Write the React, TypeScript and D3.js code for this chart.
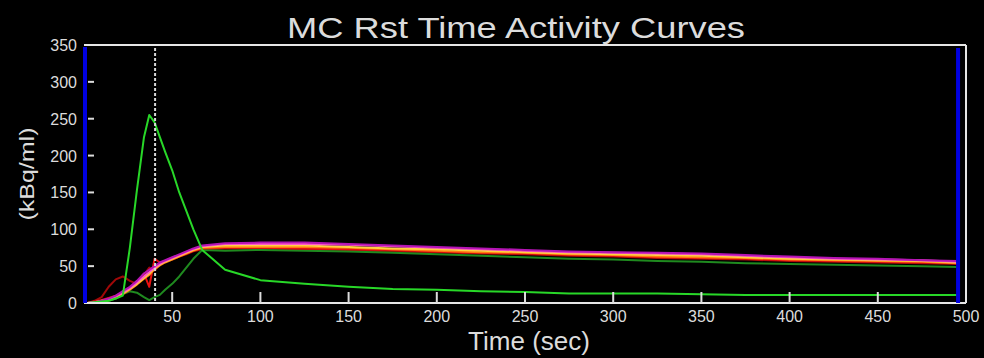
import React from "react";
import * as d3 from "d3";

const times = [2, 6, 10, 14, 18, 22, 26, 30, 34, 37, 40, 43, 46, 50, 54, 58, 62, 67, 80, 100, 125, 150, 175, 200, 225, 250, 275, 300, 325, 350, 375, 400, 425, 450, 475, 495];

const greenAif = [0, 1, 2, 3, 6, 10, 75, 153, 225, 255, 245, 225, 205, 180, 150, 125, 100, 72, 45, 31, 26, 22, 19, 18, 16, 15, 13, 13, 13, 12, 11, 11, 11, 11, 11, 11];
const darkGreen = [0, 0, 1, 3, 6, 12, 16, 14, 8, 4, 8, 11, 18, 26, 36, 48, 60, 72, 71, 72, 71, 70, 68, 66, 64, 62, 60, 59, 57, 56, 54, 53, 52, 51, 50, 49];
const magenta = [0, 1, 3, 6, 10, 16, 22, 30, 40, 45, 50, 55, 58, 62, 66, 70, 74, 78, 81, 82, 82, 80, 78, 76, 74, 72, 70, 69, 68, 67, 65, 63, 61, 60, 58, 57];
const pink = [0, 1, 2, 5, 9, 14, 20, 28, 36, 42, 48, 53, 57, 61, 65, 69, 73, 77, 80, 80, 80, 79, 77, 75, 73, 71, 69, 68, 67, 66, 64, 62, 60, 59, 58, 56];
const yellow = [0, 1, 3, 5, 9, 13, 19, 26, 34, 40, 47, 52, 56, 60, 64, 68, 72, 76, 78, 78, 78, 76, 74, 73, 71, 69, 67, 66, 65, 64, 62, 60, 59, 58, 57, 55];
const orange = [0, 1, 2, 4, 8, 12, 18, 25, 33, 38, 46, 51, 55, 59, 63, 67, 71, 75, 76, 76, 76, 75, 73, 71, 69, 68, 66, 65, 63, 62, 61, 59, 58, 57, 56, 54];
const red = [0, 2, 4, 7, 10, 14, 20, 28, 40, 22, 60, 55, 57, 60, 64, 67, 71, 74, 75, 75, 74, 73, 72, 70, 68, 67, 65, 64, 62, 61, 60, 58, 57, 56, 55, 54];
const darkRed = [0, 3, 8, 22, 32, 36, 30, 26, 38, 48, 44, 52, 56, 59, 63, 66, 70, 73, 74, 74, 73, 72, 70, 69, 67, 66, 64, 63, 61, 60, 59, 57, 56, 55, 54, 53];

const seriesList = [
  { name: "darkRed", values: darkRed, color: "#a00808" },
  { name: "darkGreen", values: darkGreen, color: "#1f8a1f" },
  { name: "red", values: red, color: "#e81010" },
  { name: "orange", values: orange, color: "#ff7a10" },
  { name: "yellow", values: yellow, color: "#ffd040" },
  { name: "pink", values: pink, color: "#ff5cc8" },
  { name: "magenta", values: magenta, color: "#b414b4" },
  { name: "greenAif", values: greenAif, color: "#28d828" },
];

const xTicks = [50, 100, 150, 200, 250, 300, 350, 400, 450, 500];
const yTicks = [0, 50, 100, 150, 200, 250, 300, 350];
const markerTime = 40.3;
const blueRightTime = 495.5;

export default function App() {
  const W = 984, H = 358;
  const left = 84, right = 966, top = 45, bottom = 303;
  const x = d3.scaleLinear().domain([0, 500]).range([left, right]);
  const y = d3.scaleLinear().domain([0, 350]).range([bottom, top]);
  const font = "'Liberation Sans', Arial, sans-serif";
  const txt = "#dcdcdc";

  const line = (vals: number[]) =>
    d3.line<number>().x((_, i) => x(times[i])).y((d) => y(d))(vals) || "";

  return (
    <svg width={W} height={H} style={{ position: "absolute", left: 0, top: 0, background: "#000" }}>
      <rect x={0} y={0} width={W} height={H} fill="#000" />
      <text x={516} y={38} fill={txt} fontFamily={font} fontSize={30} textAnchor="middle" textLength={458} lengthAdjust="spacingAndGlyphs">MC Rst Time Activity Curves</text>

      {/* curves */}
      {seriesList.map((s) => (
        <path key={s.name} d={line(s.values)} fill="none" stroke={s.color} strokeWidth={2} strokeLinejoin="round" />
      ))}

      {/* dashed marker */}
      <line x1={x(markerTime)} x2={x(markerTime)} y1={top + 3} y2={bottom} stroke="#d8d8d8" strokeWidth={2} strokeDasharray="3,2" />

      {/* frame */}
      <line x1={left} x2={right} y1={top} y2={top} stroke="#e6e6e6" strokeWidth={2} />
      <line x1={right} x2={right} y1={top} y2={bottom} stroke="#e6e6e6" strokeWidth={2} />
      <line x1={left} x2={right} y1={bottom} y2={bottom} stroke="#e6e6e6" strokeWidth={2} />
      <line x1={left + 1} x2={left + 1} y1={top + 2} y2={bottom} stroke="#0000e0" strokeWidth={4} />
      <line x1={x(blueRightTime)} x2={x(blueRightTime)} y1={top + 3} y2={bottom} stroke="#0000e0" strokeWidth={4} />

      {/* y ticks */}
      {yTicks.map((t) => (
        <g key={t}>
          {t > 0 && t < 350 && <line x1={left + 4} x2={left + 10} y1={y(t)} y2={y(t)} stroke="#dcdcdc" strokeWidth={2} />}
          <text x={77} y={y(t) + 6} fill={txt} fontFamily={font} fontSize={16} textAnchor="end">{t}</text>
        </g>
      ))}

      {/* x ticks */}
      {xTicks.map((t) => (
        <g key={t}>
          {t < 500 && <line x1={x(t)} x2={x(t)} y1={bottom - 11} y2={bottom} stroke="#dcdcdc" strokeWidth={2} />}
          <text x={x(t)} y={322} fill={txt} fontFamily={font} fontSize={16} textAnchor="middle">{t}</text>
        </g>
      ))}

      <text x={529} y={350} fill={txt} fontFamily={font} fontSize={25} textAnchor="middle" textLength={122} lengthAdjust="spacingAndGlyphs">Time (sec)</text>
      <text transform={`translate(34,174) rotate(-90)`} fill={txt} fontFamily={font} fontSize={21} textAnchor="middle" textLength={93} lengthAdjust="spacingAndGlyphs">(kBq/ml)</text>
    </svg>
  );
}
